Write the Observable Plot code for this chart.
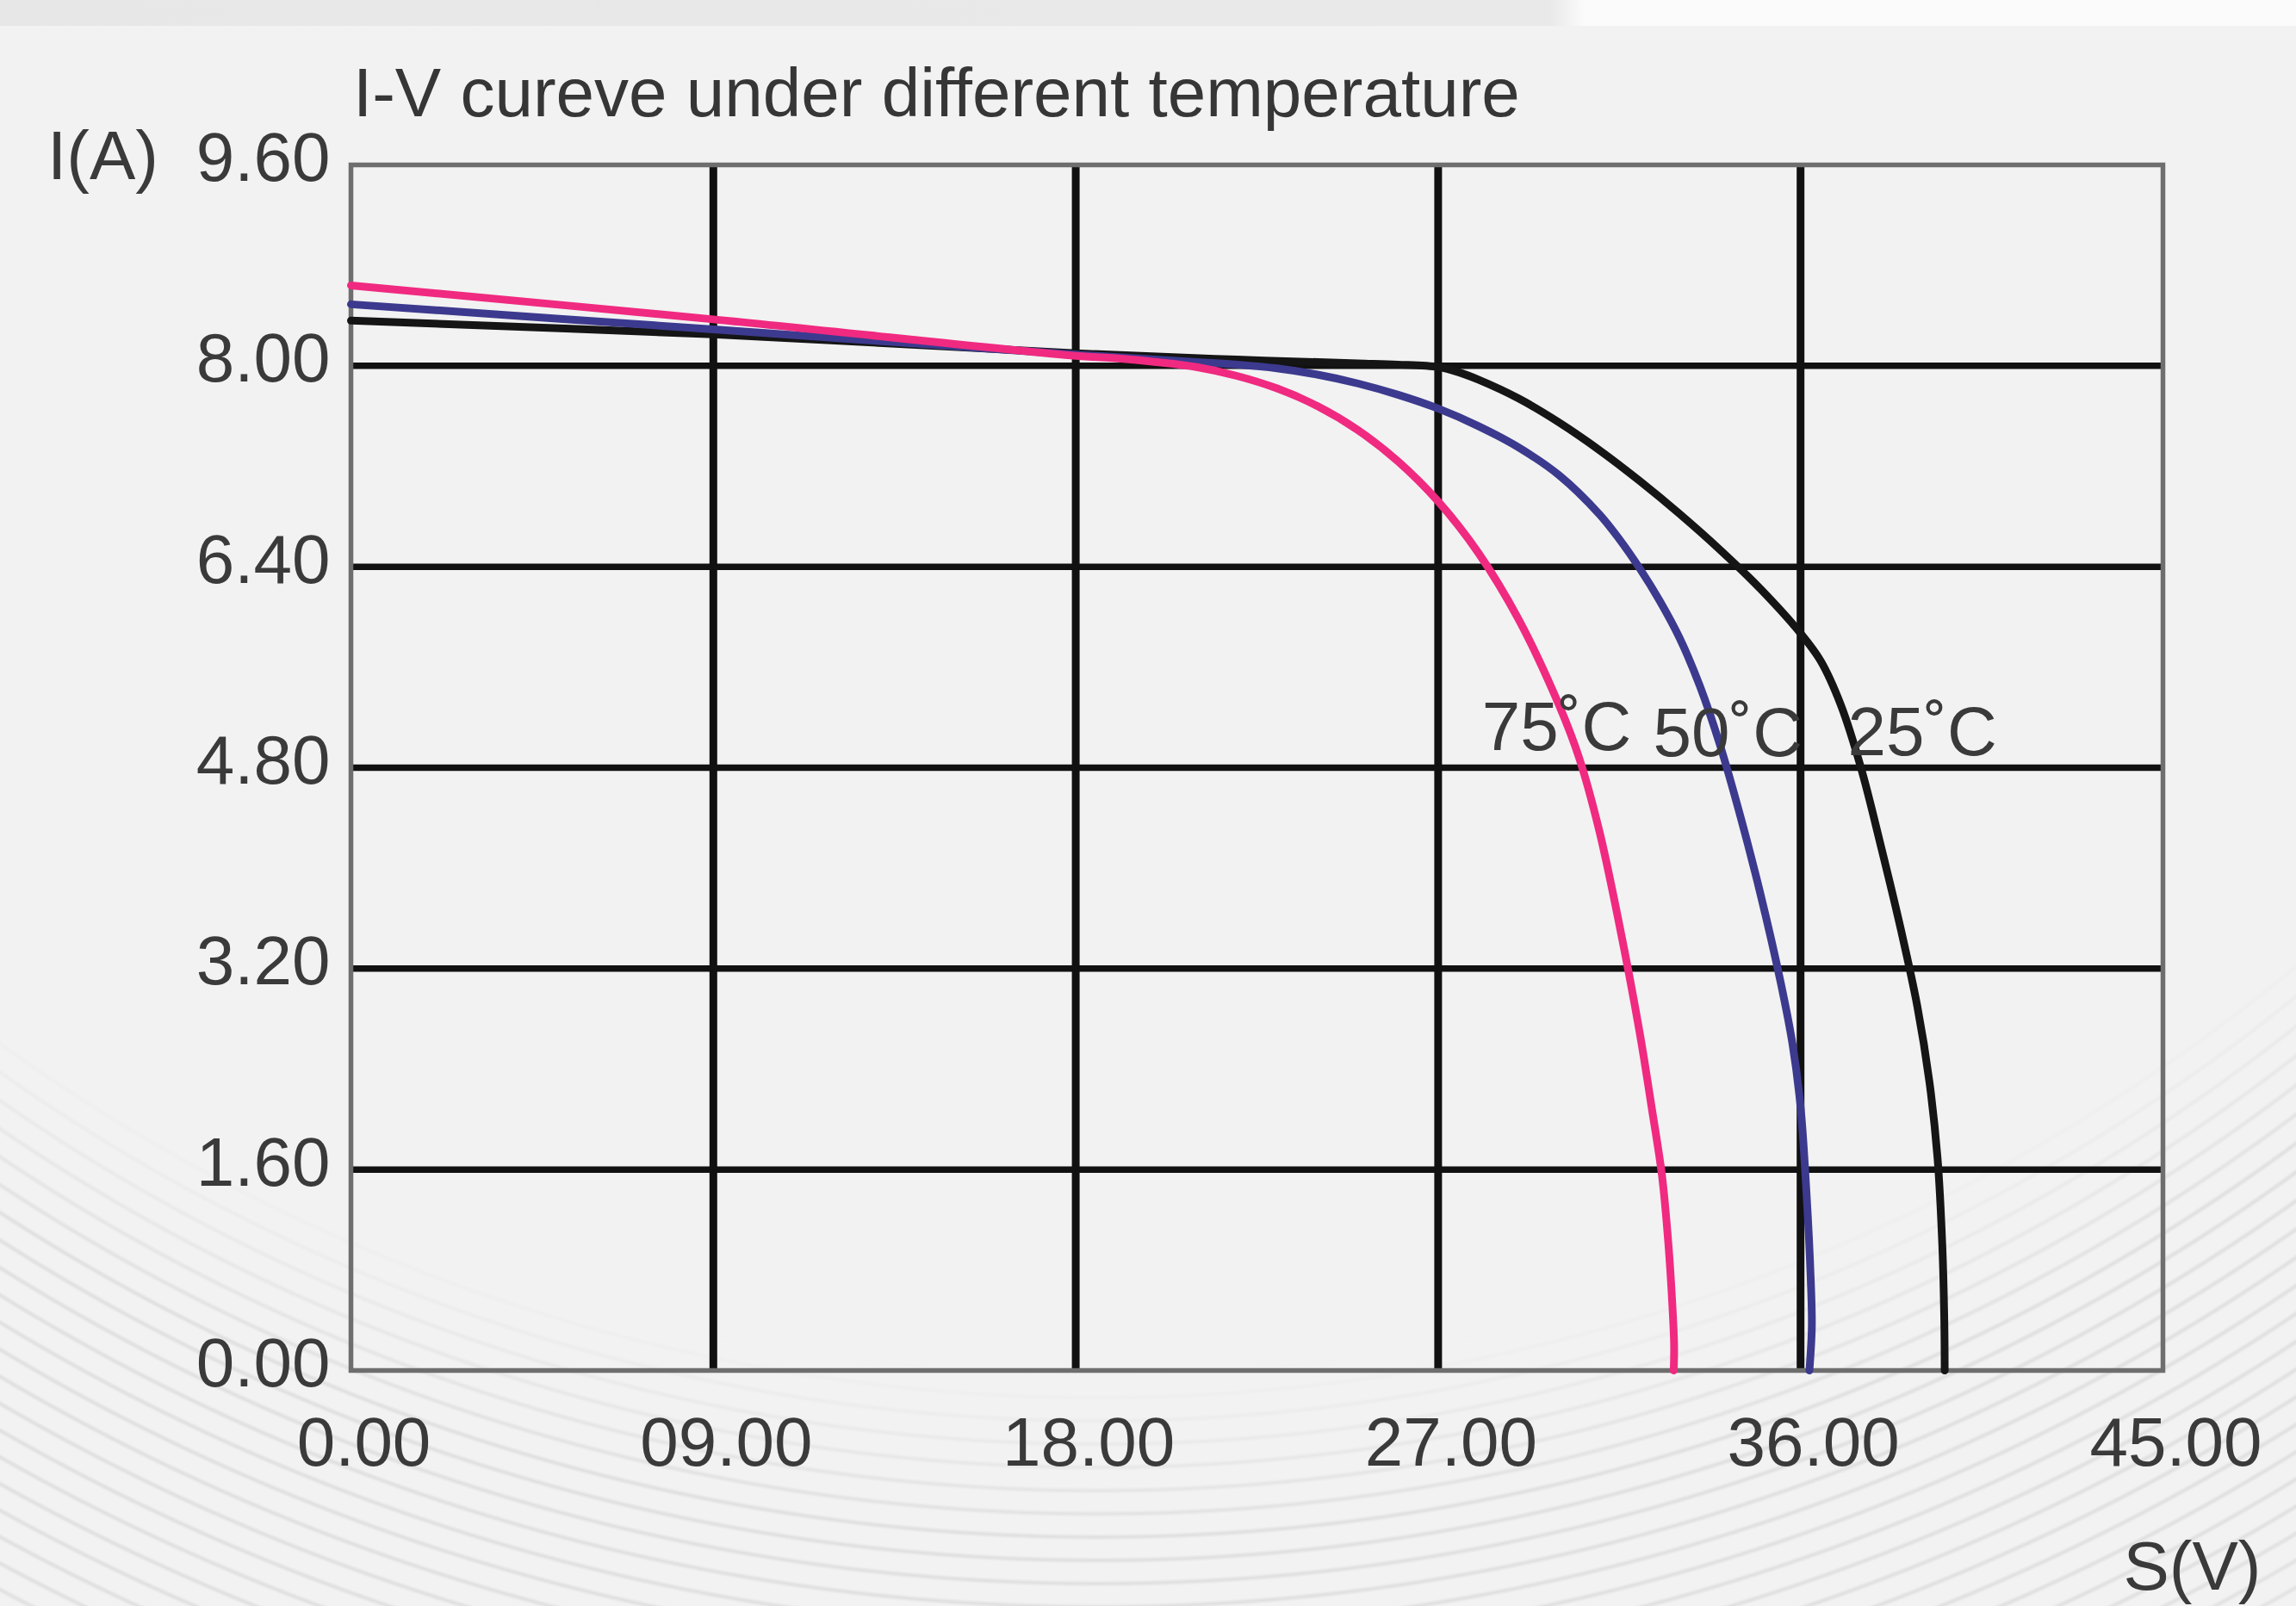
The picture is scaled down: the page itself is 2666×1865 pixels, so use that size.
<!DOCTYPE html>
<html>
<head>
<meta charset="utf-8">
<script src="https://cdn.jsdelivr.net/npm/d3@7"></script>
<script src="https://cdn.jsdelivr.net/npm/@observablehq/plot@0.6"></script>
<style>
  html, body { margin: 0; padding: 0; background: #f2f2f2; }
  body { position: relative; width: 2666px; height: 1865px; overflow: hidden; font-family: "Liberation Sans", Arial, sans-serif; }
  #topband { position: absolute; left: 0; top: 0; width: 2666px; height: 30px;
             background: linear-gradient(90deg, #e7e7e7 0, #e9e9e9 1800px, #fbfbfb 1840px, #fbfbfb 100%); }
  #swoosh { position: absolute; left: 0; top: 0; width: 2666px; height: 1865px;
            background: repeating-radial-gradient(circle at 1275px -560px, rgba(0,0,0,0) 0, rgba(0,0,0,0) 19px, rgba(0,0,0,0.075) 23px, rgba(0,0,0,0) 27px);
            -webkit-mask-image: radial-gradient(circle at 1275px -560px, rgba(0,0,0,0) 2150px, rgba(0,0,0,1) 2350px, rgba(0,0,0,1) 2700px, rgba(0,0,0,0.4) 3000px);
            mask-image: radial-gradient(circle at 1275px -560px, rgba(0,0,0,0) 2150px, rgba(0,0,0,1) 2350px, rgba(0,0,0,1) 2700px, rgba(0,0,0,0.4) 3000px); }
  #title { position: relative; box-sizing: border-box; height: 124px; padding-top: 92px; padding-left: 410px;
           font-size: 80px; line-height: 32px; color: #363636; white-space: nowrap; }
  #chart { position: relative; }
  #chart svg { display: block; }
</style>
</head>
<body>
<div id="topband"></div>
<div id="swoosh"></div>
<div id="title">I-V cureve under different temperature</div>
<div id="chart"></div>
<script>
// Tick values and labels
const xTicks = [0, 9, 18, 27, 36, 45];
const xTickLabels = ["0.00", "09.00", "18.00", "27.00", "36.00", "45.00"];
const yTicks = [0, 1.6, 3.2, 4.8, 6.4, 8.0, 9.6];
const yTickLabels = ["0.00", "1.60", "3.20", "4.80", "6.40", "8.00", "9.60"];

// Series (voltage V, current A)
const series = ["25", "50", "75"];
const v25 = [0, 9, 18, 22, 25, 26, 27, 27.5, 28, 29, 30, 31, 32, 33, 34, 35, 36, 36.5, 37, 37.5, 38, 38.5, 38.9, 39.2, 39.4, 39.52, 39.57, 39.58];
const i25 = [8.36, 8.25, 8.1, 8.05, 8.02, 8.01, 7.99, 7.95, 7.89, 7.74, 7.55, 7.33, 7.085, 6.82, 6.535, 6.225, 5.87, 5.65, 5.3, 4.8, 4.17, 3.5, 2.9, 2.3, 1.7, 1.0, 0.4, 0];
const v50 = [0, 9, 18, 21, 22, 23, 24, 25, 26, 27, 28, 29, 30, 31, 31.5, 32, 32.5, 33, 33.5, 34, 34.5, 35, 35.5, 35.8, 36.0, 36.15, 36.25, 36.28, 36.22];
const i50 = [8.49, 8.29, 8.09, 8.03, 8.01, 7.98, 7.93, 7.86, 7.77, 7.66, 7.52, 7.35, 7.13, 6.82, 6.62, 6.39, 6.13, 5.83, 5.45, 4.98, 4.42, 3.8, 3.1, 2.6, 2.1, 1.4, 0.75, 0.35, 0];
const v75 = [0, 9, 18, 19, 20, 21, 22, 23, 24, 25, 26, 27, 28, 29, 30, 30.5, 31, 31.5, 32, 32.3, 32.56, 32.72, 32.82, 32.86, 32.85];
const i75 = [8.64, 8.37, 8.08, 8.06, 8.03, 7.99, 7.92, 7.82, 7.68, 7.49, 7.24, 6.92, 6.51, 5.98, 5.3, 4.88, 4.3, 3.55, 2.7, 2.1, 1.55, 1.0, 0.5, 0.2, 0];
const seriesColors = ["#151515", "#3c3a8e", "#f02a80"];

// Curve labels
const labelText = ["75˚C", "50˚C", "25˚C"];
const labelV = [28.09, 32.34, 37.17];
const labelI = [4.94, 4.89, 4.90];

const rows = [];
[[v25, i25], [v50, i50], [v75, i75]].forEach(([vs, is], k) => {
  vs.forEach((v, j) => rows.push({series: series[k], v, i: is[j]}));
});
const labels = labelText.map((t, k) => ({t, v: labelV[k], i: labelI[k]}));

const textColor = "#3a3a3a";
const chart = Plot.plot({
  width: 2666,
  height: 1741,
  marginLeft: 407,
  marginRight: 155,
  marginTop: 67,
  marginBottom: 274,
  style: {background: "transparent", fontFamily: "'Liberation Sans', Arial, sans-serif", fontSize: "80px", color: textColor, overflow: "visible"},
  x: {domain: [0, 45], label: null},
  y: {domain: [0, 9.6], label: null},
  color: {domain: series, range: seriesColors},
  marks: [
    Plot.gridX(xTicks.slice(1, -1), {stroke: "#111", strokeOpacity: 1, strokeWidth: 9}),
    Plot.gridY(yTicks.slice(1, -1), {stroke: "#111", strokeOpacity: 1, strokeWidth: 7.5}),
    Plot.frame({stroke: "#6e6e6e", strokeWidth: 5.5}),
    Plot.axisX(xTicks, {tickSize: 0, tickPadding: 54, dx: 15, fontSize: 80, fill: textColor,
      tickFormat: d => xTickLabels[xTicks.indexOf(d)]}),
    Plot.axisY(yTicks, {tickSize: 0, tickPadding: 24, dy: -7, fontSize: 80, fill: textColor,
      tickFormat: d => yTickLabels[yTicks.indexOf(d)]}),
    Plot.line(rows, {x: "v", y: "i", z: "series", stroke: "series", strokeWidth: 9, curve: "catmull-rom"}),
    Plot.text(labels, {x: "v", y: "i", text: "t", textAnchor: "start", lineAnchor: "bottom", fontSize: 80, fill: textColor}),
    Plot.text(["I(A)"], {frameAnchor: "top-left", text: d => d, dx: -288, dy: -9, textAnchor: "middle", lineAnchor: "middle", fontSize: 80, fill: textColor}),
    Plot.text(["S(V)"], {frameAnchor: "bottom-right", text: d => d, dx: 114, dy: 254, textAnchor: "end", lineAnchor: "bottom", fontSize: 80, fill: textColor})
  ]
});
document.getElementById("chart").appendChild(chart);
</script>
</body>
</html>
